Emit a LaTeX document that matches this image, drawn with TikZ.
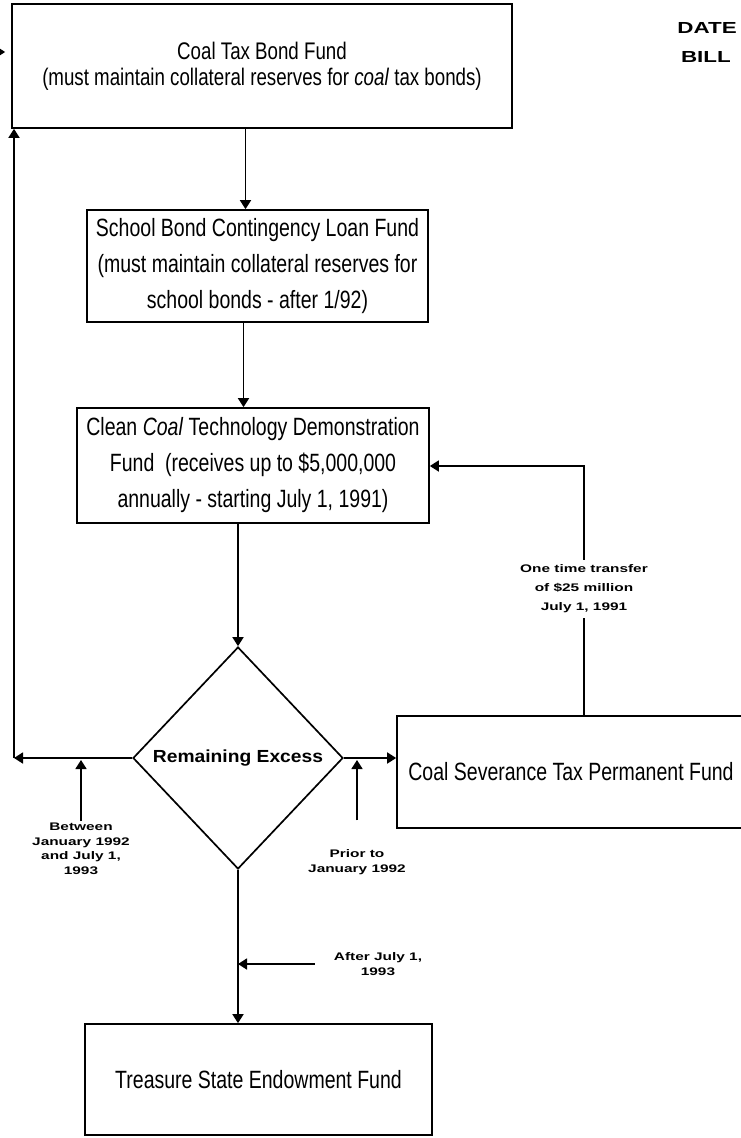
\documentclass[tikz,border=0pt]{standalone}
\usepackage{fontspec}
\newfontfamily\fundfont{Liberation Sans}[FakeStretch=0.78]
\newfontfamily\notefont{Liberation Sans}[FakeStretch=1.4]
\newfontfamily\excessfont{Liberation Sans}[FakeStretch=1.1]
\usepackage{tikz}
\usetikzlibrary{shapes.geometric, arrows.meta}
\tikzset{
Fund/.style={
	draw, rectangle,
	line width=1.7pt,
	align=center,
	inner sep=0pt,
	font=\fundfont\fontsize{25}{36}\selectfont
},
Decision/.style={
	draw, diamond,
	line width=1.7pt,
	inner sep=0pt,
	minimum width=210pt,
	minimum height=222pt,
	font=\excessfont\bfseries\fontsize{17.5}{20}\selectfont
},
Note/.style={
	align=center,
	inner sep=2pt,
	font=\notefont\bfseries\fontsize{11}{14.5}\selectfont
},
Stamp/.style={
	inner sep=0pt,
	font=\notefont\bfseries\fontsize{16}{20}\selectfont
},
Edge/.style={
	draw=black,
	line width=1.7pt,
	-{Triangle[length=9pt, width=11pt]}
}
}

\begin{document}
\begin{tikzpicture}[x=1pt, y=-1pt]
	\useasboundingbox (0,0) rectangle (741,1138);

	\node[Fund, minimum width=500pt, minimum height=124pt, font=\fundfont\fontsize{24}{26}\selectfont] (CTB) at (262,66) {Coal Tax Bond Fund\\(must maintain collateral reserves for \textit{coal} tax bonds)};
	\node[Fund, minimum width=341pt, minimum height=112pt] (SBC) at (257.5,266) {School Bond Contingency Loan Fund\\(must maintain collateral reserves for\\school bonds - after 1/92)};
	\node[Fund, minimum width=352pt, minimum height=115pt] (CCT) at (253,465.5) {Clean \textit{Coal} Technology Demonstration\\Fund\ \ (receives up to \$5,000,000\\annually - starting July 1, 1991)};
	\node[Decision] (RE) at (238,758) {Remaining Excess};
	\node[Fund, minimum width=348pt, minimum height=112pt] (CSP) at (571,772) {Coal Severance Tax Permanent Fund};
	\node[Fund, minimum width=347pt, minimum height=111pt] (TSE) at (258.5,1079.5) {Treasure State Endowment Fund};

	\node[Stamp, anchor=east] (Date) at (737,28) {DATE};
	\node[Stamp, anchor=east] (Bill) at (731,57) {BILL};

	\node[Note] (Between) at (81,849) {Between\\January 1992\\and July 1,\\1993};
	\node[Note] (Prior) at (357,862) {Prior to\\January 1992};
	\node[Note] (After) at (378,964) {After July 1,\\1993};
	\coordinate (Turn) at (584,466);
	\coordinate (Corner) at (14,758);
	\coordinate (Stub) at (-6,52);

	\draw[Edge] ([xshift=-12pt]SBC.north |- CTB.south) -- ([xshift=-12pt]SBC.north);
	\draw[Edge] ([xshift=-14pt]SBC.south) -- ([xshift=-14pt]SBC.south |- CCT.north);
	\draw[Edge] (RE.north |- CCT.south) -- (RE.north);
	\draw[Edge] (RE.east) -- (RE.east -| CSP.west);
	\draw[Edge] (RE.west) -- (Corner);
	\draw[Edge] (Corner) -- (Corner |- CTB.south);
	\draw[Edge, shorten >=6pt] (Stub) -- (Stub -| CTB.west);
	\draw[Edge] (RE.south) -- (RE.south |- TSE.north);
	\draw[Edge] (CSP.north -| Turn) -- (Turn) -- (Turn -| CCT.east);
	\node[Note, fill=white, inner sep=5pt, font=\notefont\bfseries\fontsize{11}{19}\selectfont] (Xfer) at (584,589) {One time transfer\\of \$25 million\\July 1, 1991};

	\draw[Edge, shorten >=2pt] (Between.north) -- (Between.north |- RE.west);
	\draw[Edge, shorten <=27pt, shorten >=2pt] (Prior.north) -- (Prior.north |- RE.east);
	\draw[Edge, shorten <=17pt] (After.west) -- (After.west -| RE.south);
\end{tikzpicture}
\end{document}
